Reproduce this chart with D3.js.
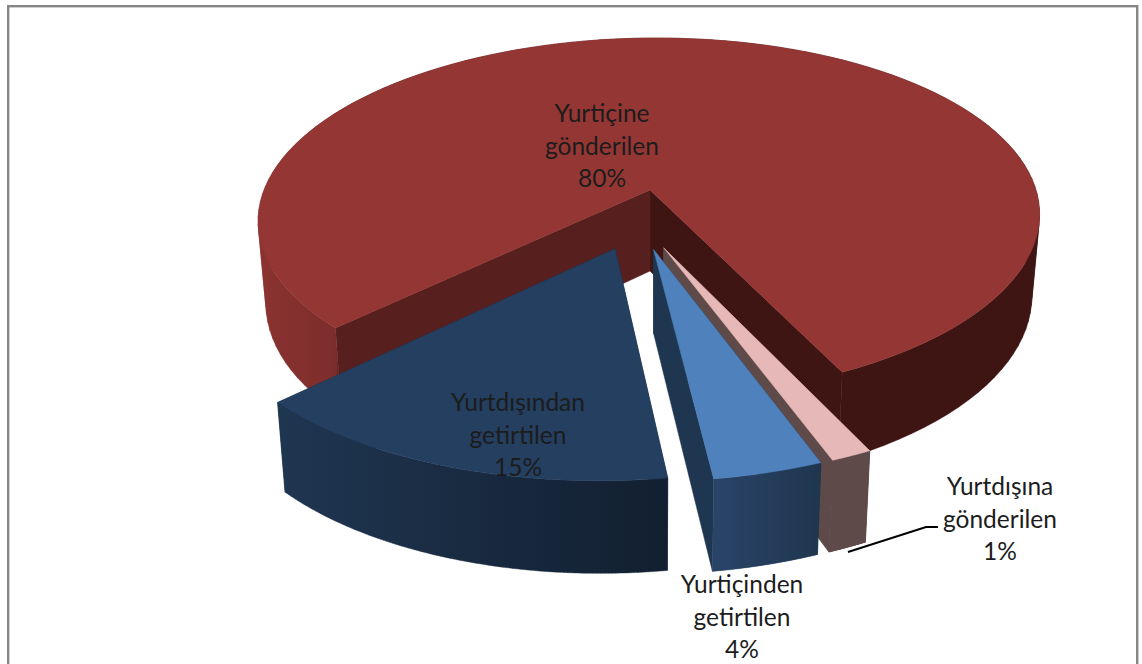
<!DOCTYPE html>
<html>
<head>
<meta charset="utf-8">
<style>
  html, body { margin: 0; padding: 0; background: #fff; overflow: hidden; }
  text { font-family: Lato, "Open Sans", sans-serif; font-size: 24.5px; fill: #1c1c1c; text-anchor: middle; }
</style>
<script src="https://cdn.jsdelivr.net/npm/d3@7"></script>
</head>
<body>
<svg id="chart" width="1142" height="664"></svg>
<script>
// data, clockwise from the left edge of the big slice
const categories = ['Yurtiçine gönderilen', 'Yurtdışına gönderilen', 'Yurtiçinden getirtilen', 'Yurtdışından getirtilen'];
const shares = [80, 1.4, 3.7, 14.9];

// colours per slice
const topColors = ['#943634', '#e6b8b7', '#4f81bd', '#243f60'];
const startFaceColors = ['#57201e', '#5e4a48', '#1f3650', '#1c3049'];
const endFaceColors = ['#3e1513', '#5e4a48', '#1f3650', '#1c3049'];
const wallStops = [
  [[0, '#8b3331'], [0.1, '#7c2d2b'], [0.105, '#3e1513'], [1, '#3e1513']],
  [[0, '#5e4a48'], [1, '#5e4a48']],
  [[0, '#2a4468'], [1, '#1f364f']],
  [[0, '#1f3651'], [1, '#121f30']]
];

// label text lines and anchors, leader goes with the 1% label
const labelLines = [['Yurtiçine', 'gönderilen'], ['Yurtdışına', 'gönderilen'], ['Yurtiçinden', 'getirtilen'], ['Yurtdışından', 'getirtilen']];
const labelAnchors = [[602, 122], [1000, 495], [742, 593], [518, 411]];
const LINE_HEIGHT = 32.5;

// projection of the pie plane, origin at the apex of the big slice
const APEX_X = 650;
const APEX_Y = 190;
const SCALE_X = 386;
const SCALE_Y = 175.5;
const PERSPECTIVE = 0.1545;
const SHEAR = 0.019;
const DEPTH = 81;
const DEPTH_PERSPECTIVE = 0.095;
const TAPER = 0.02;
const EXPLODE = 0.165;
const START_DEG = 225.5;

const rad = d => d * Math.PI / 180;
const RED_MID = START_DEG + 144;
const centerU = -EXPLODE * Math.sin(rad(RED_MID));
const centerV = -EXPLODE * Math.cos(rad(RED_MID));

function project(u, v, z) {
  const w = 1 + PERSPECTIVE * v;
  return [
    APEX_X + SCALE_X * (u + SHEAR * v) / w * (1 - z * TAPER),
    APEX_Y - SCALE_Y * v / w + z * DEPTH / (1 + DEPTH_PERSPECTIVE * v)
  ];
}

const svg = d3.select('#chart');
const defs = svg.append('defs');
const line = d3.line();

const arcs = d3.pie().value(d => d).sort(null)
  .startAngle(rad(START_DEG))
  .endAngle(rad(START_DEG) + 2 * Math.PI)(shares);

// chart frame, runs off the bottom of the picture
svg.append('rect')
  .attr('x', 8.2).attr('y', 6.2)
  .attr('width', 1129).attr('height', 700)
  .attr('fill', '#fff').attr('stroke', '#868686').attr('stroke-width', 2.4);

const $vis = svg.append('g').attr('class', 'g-vis');

function addFace($g, points, fill) {
  $g.append('path')
    .attr('d', line(points) + 'Z')
    .attr('fill', fill)
    .attr('stroke', fill)
    .attr('stroke-width', 0.5);
}

arcs.forEach((d, i) => {
  const mid = (d.startAngle + d.endAngle) / 2;
  const ou = centerU + EXPLODE * Math.sin(mid);
  const ov = centerV + EXPLODE * Math.cos(mid);
  const at = (a, z) => project(ou + Math.sin(a), ov + Math.cos(a), z);
  const apex = z => project(ou, ov, z);
  const angles = d3.range(0, 121).map(t => d.startAngle + (d.endAngle - d.startAngle) * t / 120);

  const topEdge = angles.map(a => at(a, 0));

  // side wall gradient runs across the slice's own width
  const xs = topEdge.map(p => p[0]);
  const grad = defs.append('linearGradient')
    .attr('id', `wall-${i}`)
    .attr('gradientUnits', 'userSpaceOnUse')
    .attr('x1', d3.min(xs)).attr('x2', d3.max(xs))
    .attr('y1', 0).attr('y2', 0);
  wallStops[i].forEach(s => grad.append('stop').attr('offset', s[0]).attr('stop-color', s[1]));

  const $slice = $vis.append('g').attr('class', 'slice').attr('data-name', categories[i]);

  // painter order: cut faces, then outer wall, then the top
  addFace($slice, [apex(0), at(d.endAngle, 0), at(d.endAngle, 1), apex(1)], endFaceColors[i]);
  addFace($slice, [apex(0), at(d.startAngle, 0), at(d.startAngle, 1), apex(1)], startFaceColors[i]);
  // wall is one path of strips, all wound the same way so they don't cancel where it folds
  const strips = d3.pairs(angles).map(([a, b]) => {
    const quad = [at(a, 0), at(b, 0), at(b, 1), at(a, 1)];
    return line(d3.polygonArea(quad) < 0 ? quad.reverse() : quad) + 'Z';
  });
  $slice.append('path')
    .attr('d', strips.join(''))
    .attr('fill', `url(#wall-${i})`)
    .attr('stroke', `url(#wall-${i})`)
    .attr('stroke-width', 0.4);
  addFace($slice, [apex(0)].concat(topEdge), topColors[i]);
});

// leader for the 1% slice
svg.append('path')
  .attr('d', 'M848,552L926,527L938,527')
  .attr('fill', 'none').attr('stroke', '#000').attr('stroke-width', 2);

labelLines.forEach((lines, i) => {
  const $t = svg.append('text');
  lines.concat(`${Math.round(shares[i])}%`).forEach((s, j) => {
    $t.append('tspan')
      .attr('x', labelAnchors[i][0])
      .attr('y', labelAnchors[i][1] + j * LINE_HEIGHT)
      .text(s);
  });
});
</script>
</body>
</html>
